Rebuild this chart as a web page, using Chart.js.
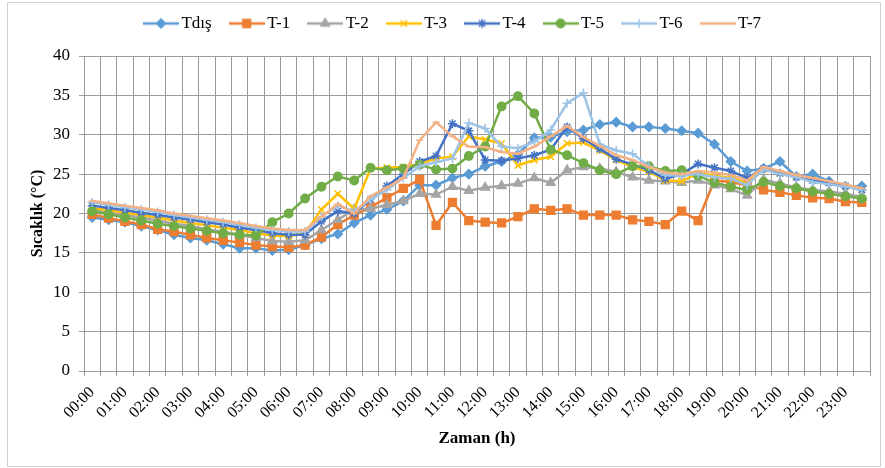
<!DOCTYPE html>
<html><head><meta charset="utf-8">
<script src="https://cdn.jsdelivr.net/npm/chart.js@4.4.1/dist/chart.umd.min.js"></script>
<style>
html,body{margin:0;padding:0;background:#fff;}
#wrap{position:relative;width:885px;height:468px;overflow:hidden;}
#frame{position:absolute;left:7px;top:2px;width:874px;height:465px;border:1px solid #d0d0d0;box-sizing:border-box;pointer-events:none;}
canvas{position:absolute;left:0;top:0;}
</style></head><body>
<div id="wrap"><canvas id="c" width="885" height="468"></canvas><div id="frame"></div></div>
<script>
const times = ['00:00','00:30','01:00','01:30','02:00','02:30','03:00','03:30','04:00','04:30','05:00','05:30',
 '06:00','06:30','07:00','07:30','08:00','08:30','09:00','09:30','10:00','10:30','11:00','11:30',
 '12:00','12:30','13:00','13:30','14:00','14:30','15:00','15:30','16:00','16:30','17:00','17:30',
 '18:00','18:30','19:00','19:30','20:00','20:30','21:00','21:30','22:00','22:30','23:00','23:30'];
const seriesNames = ['Tdış','T-1','T-2','T-3','T-4','T-5','T-6','T-7'];
const tdis = [19.5,19.2,18.9,18.4,17.9,17.3,16.9,16.6,16.1,15.6,15.6,15.3,
 15.4,16.0,16.8,17.4,18.8,19.8,20.5,21.6,23.6,23.6,24.5,25.0,
 26.0,26.6,27.5,29.6,29.7,30.4,30.6,31.3,31.6,31.0,31.0,30.8,
 30.5,30.2,28.8,26.6,25.4,25.7,26.6,24.7,25.0,24.1,23.4,23.5];
const t1 = [19.9,19.4,19.0,18.6,18.0,17.7,17.3,16.9,16.6,16.3,16.0,15.8,
 15.7,16.0,17.0,18.6,19.8,20.8,22.0,23.2,24.3,18.5,21.4,19.1,
 18.9,18.8,19.6,20.6,20.4,20.6,19.8,19.8,19.8,19.2,19.0,18.6,
 20.3,19.1,24.2,24.0,23.6,23.0,22.7,22.3,22.0,21.9,21.5,21.4];
const t2 = [20.4,20.1,19.8,19.5,19.1,18.7,18.4,18.0,17.7,17.3,16.9,16.5,
 16.4,16.6,17.9,19.2,20.5,20.6,21.1,21.6,22.5,22.4,23.4,22.9,
 23.3,23.5,23.8,24.5,23.9,25.5,25.9,25.7,25.3,24.6,24.2,24.1,
 23.9,24.2,23.6,23.1,22.3,24.3,23.8,23.3,23.0,22.8,22.5,22.1];
const t3 = [20.7,20.4,20.1,19.8,19.5,19.1,18.8,18.5,18.2,17.9,17.5,17.2,
 17.1,17.5,20.5,22.5,20.6,25.7,25.8,25.9,26.3,27.0,27.2,29.8,
 29.4,28.9,26.1,26.8,27.2,28.9,29.0,28.0,26.8,25.9,25.3,24.2,
 24.1,25.1,24.8,24.5,23.9,25.6,25.1,24.7,24.3,23.9,23.5,23.0];
const t4 = [21.0,20.7,20.4,20.1,19.8,19.5,19.2,18.9,18.6,18.2,17.9,17.5,
 17.3,17.3,19.0,20.3,20.0,21.8,23.5,25.0,26.6,27.3,31.4,30.5,
 26.8,26.7,27.0,27.4,28.1,31.0,29.5,28.2,26.9,26.2,25.5,24.4,
 25.0,26.3,25.8,25.4,24.5,25.7,25.1,24.6,24.2,23.9,23.5,23.0];
const t5 = [20.3,19.9,19.5,19.1,18.7,18.4,18.1,17.8,17.5,17.3,17.2,18.9,
 20.0,21.9,23.4,24.7,24.2,25.8,25.5,25.7,26.2,25.6,25.7,27.3,
 28.5,33.6,34.9,32.7,28.1,27.4,26.4,25.5,25.0,26.0,26.0,25.4,
 25.5,24.8,23.9,23.4,23.0,24.0,23.5,23.2,22.8,22.5,22.2,21.9];
const t6 = [21.4,21.1,20.8,20.5,20.2,19.8,19.5,19.2,18.9,18.6,18.2,17.9,
 17.7,17.7,19.6,21.0,20.3,21.8,23.0,24.5,26.0,26.5,27.0,31.5,
 30.8,28.5,28.3,29.1,30.6,34.0,35.3,28.8,28.0,27.6,26.0,24.9,
 24.8,25.0,24.6,24.4,23.6,25.6,25.0,24.6,24.0,23.7,23.4,23.0];
const t7 = [21.6,21.3,21.0,20.7,20.4,20.0,19.7,19.4,19.1,18.8,18.4,18.1,
 17.9,17.9,19.6,21.2,20.0,22.2,23.3,24.5,29.3,31.6,29.8,28.5,
 28.4,27.8,27.6,28.5,29.8,31.1,29.7,28.6,27.4,26.8,25.9,25.2,
 25.0,25.4,25.2,24.9,24.2,25.9,25.4,24.9,24.5,24.1,23.7,23.2];
const yTicks = {min: 0, max: 40, step: 5};

const colors = ['#5B9BD5','#ED7D31','#A5A5A5','#FFC000','#4472C4','#70AD47','#9DC3E6','#F4B183'];
const styles = ['rectRot','rect','triangle','crossRot','star','circle','cross','line'];
const radii = [4.5,5.5,5,4.5,4.5,4.2,4.5,3.5];
const values = [tdis,t1,t2,t3,t4,t5,t6,t7];

function legendImage(i){
  const cv = document.createElement('canvas');
  cv.width = 36; cv.height = 14;
  const ctx = cv.getContext('2d');
  ctx.strokeStyle = colors[i]; ctx.fillStyle = colors[i];
  ctx.lineWidth = 2.5;
  ctx.beginPath(); ctx.moveTo(0,7); ctx.lineTo(36,7); ctx.stroke();
  ctx.lineWidth = 1.5;
  Chart.helpers.drawPoint(ctx, {pointStyle: styles[i], radius: radii[i], rotation: 0, borderWidth: 1.5}, 18, 7);
  return cv;
}

const datasets = seriesNames.map((n, i) => ({
  label: n,
  data: values[i],
  borderColor: colors[i],
  backgroundColor: colors[i],
  pointBackgroundColor: colors[i],
  pointBorderColor: colors[i],
  pointStyle: styles[i],
  pointRadius: radii[i],
  pointBorderWidth: 1.5,
  borderWidth: 2.5,
  tension: 0,
  order: 10 - i
}));

const layoutPlugin = {
  id: 'layoutTweak',
  beforeUpdate(chart){
    const lg = chart.legend;
    if (lg && !lg._patched){
      const orig = lg.fit;
      lg.fit = function(){ orig.call(this); this.height = 56; };
      lg._patched = true;
    }
  },
  afterLayout(chart){
    const lg = chart.legend;
    if (lg){ lg.left += 20; lg.right += 20; lg.top -= 8; lg.bottom -= 8; }
  }
};

new Chart(document.getElementById('c'), {
  type: 'line',
  data: { labels: times, datasets },
  plugins: [layoutPlugin],
  options: {
    responsive: false, animation: false, devicePixelRatio: 1,
    layout: { padding: { left: 0, right: 15, top: 0, bottom: 0 } },
    plugins: {
      tooltip: { enabled: false },
      legend: {
        position: 'top',
        labels: {
          usePointStyle: true, pointStyleWidth: 24, padding: 23,
          color: '#000',
          font: { family: '"Liberation Serif", "Times New Roman", serif', size: 17 },
          generateLabels: chart => chart.data.datasets.map((ds, i) => ({
            text: ds.label, pointStyle: legendImage(i), fillStyle: colors[i],
            strokeStyle: colors[i], lineWidth: 0, hidden: false, datasetIndex: i, fontColor: '#000'
          }))
        }
      }
    },
    scales: {
      x: {
        type: 'category', offset: true,
        grid: { offset: true, color: '#9a9a9a', lineWidth: 1, tickLength: 5, drawTicks: true },
        border: { color: '#9a9a9a' },
        ticks: {
          autoSkip: false, minRotation: 45, maxRotation: 45, padding: 7, color: '#000',
          font: { family: '"Liberation Serif", "Times New Roman", serif', size: 16 },
          callback: function(v, idx){ return idx % 2 === 0 ? this.getLabelForValue(v) : ''; }
        },
        title: { display: true, text: 'Zaman (h)', color: '#000',
          font: { family: '"Liberation Serif", "Times New Roman", serif', size: 17, weight: 'bold' },
          padding: { top: 0, bottom: 19 } },
        afterFit(scale){ scale.height = 97; }
      },
      y: {
        min: yTicks.min, max: yTicks.max,
        grid: { color: '#9a9a9a', lineWidth: 1, tickLength: 5 },
        border: { color: '#9a9a9a' },
        ticks: { stepSize: yTicks.step, padding: 9, color: '#000',
          font: { family: '"Liberation Serif", "Times New Roman", serif', size: 17 } },
        title: { display: true, text: 'Sıcaklık (°C)', color: '#000',
          font: { family: '"Liberation Serif", "Times New Roman", serif', size: 16, weight: 'bold' },
          padding: { top: 28, bottom: 0 } },
        afterFit(scale){ scale.width = 84; }
      }
    }
  }
});
</script>
</body></html>
